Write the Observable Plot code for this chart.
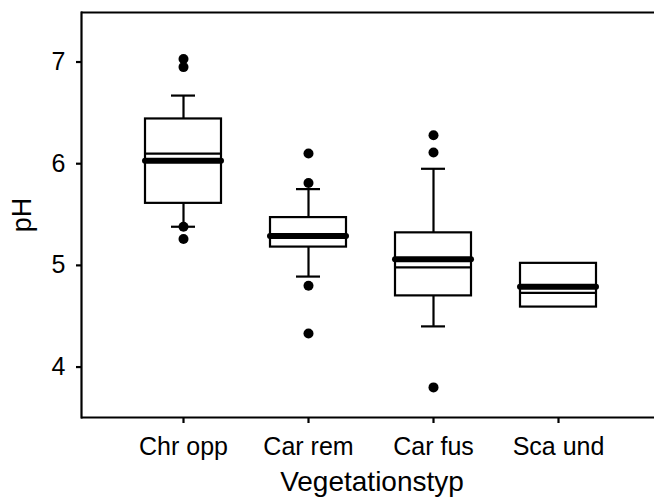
<!DOCTYPE html>
<html>
<head>
<meta charset="utf-8">
<script src="https://cdn.jsdelivr.net/npm/d3@7"></script>
<script src="https://cdn.jsdelivr.net/npm/@observablehq/plot@0.6"></script>
<style>
  html, body { margin: 0; padding: 0; background: #fff; overflow: hidden; }
  #chart svg { display: block; }
</style>
</head>
<body>
<div id="chart"></div>
<script>
// --- data ---
const categories = ["Chr opp", "Car rem", "Car fus", "Sca und"];
const q1 = [5.61, 5.18, 4.70, 4.59];
const q3 = [6.44, 5.47, 5.32, 5.02];
const medians = [6.03, 5.29, 5.06, 4.79];
const means = [6.10, 5.30, 4.98, 4.73];
const whiskerLow = [5.38, 4.89, 4.40, null];
const whiskerHigh = [6.67, 5.75, 5.95, null];
const outlierCategory = ["Chr opp", "Chr opp", "Chr opp", "Chr opp",
                         "Car rem", "Car rem", "Car rem", "Car rem",
                         "Car fus", "Car fus", "Car fus"];
const outlierValue = [7.03, 6.95, 5.38, 5.26,
                      6.10, 5.81, 4.80, 4.33,
                      6.28, 6.11, 3.80];
const yTicks = [4, 5, 6, 7];
const yDomain = [3.504, 7.487];
const xTitle = "Vegetationstyp";
const yTitle = "pH";

// tables built from the arrays
const boxes = categories.map((c, i) => ({
  cat: c, q1: q1[i], q3: q3[i], median: medians[i], mean: means[i],
  lo: whiskerLow[i], hi: whiskerHigh[i]
}));
const whiskers = boxes.filter(d => d.lo != null);
const outliers = outlierCategory.map((c, i) => ({cat: c, v: outlierValue[i]}));

const font = "'Liberation Sans', Arial, sans-serif";
const lw = 2.2;

const chart = Plot.plot({
  width: 654,
  height: 501,
  marginLeft: 81,
  marginRight: 0,
  marginTop: 12,
  marginBottom: 84,
  style: {fontFamily: font, color: "#000", background: "#fff"},
  x: {type: "band", domain: categories, paddingInner: 0.389, paddingOuter: 0.389,
      insetLeft: 13.5, insetRight: 6.5, axis: null},
  y: {domain: yDomain, axis: null},
  marks: [
    // frame: top, bottom and left sides only
    Plot.ruleY(yDomain, {stroke: "#000", strokeWidth: lw}),
    Plot.frame({anchor: "left", stroke: "#000", strokeWidth: lw}),
    Plot.axisY({ticks: yTicks, tickSize: 5, tickPadding: 11, fontSize: 25,
                strokeWidth: lw, label: null, tickFormat: d => String(d)}),
    Plot.axisX({tickSize: 6, tickPadding: 14, fontSize: 25, strokeWidth: lw, label: null}),
    // whiskers
    Plot.ruleX(whiskers, {x: "cat", y1: "q3", y2: "hi", stroke: "#000", strokeWidth: lw}),
    Plot.ruleX(whiskers, {x: "cat", y1: "lo", y2: "q1", stroke: "#000", strokeWidth: lw}),
    Plot.tickY(whiskers, {x: "cat", y: "hi", stroke: "#000", strokeWidth: lw, insetLeft: 26, insetRight: 26}),
    Plot.tickY(whiskers, {x: "cat", y: "lo", stroke: "#000", strokeWidth: lw, insetLeft: 26, insetRight: 26}),
    // boxes
    Plot.barY(boxes, {x: "cat", y1: "q1", y2: "q3", fill: "#fff", stroke: "#000", strokeWidth: lw}),
    // mean (thin) and median (thick)
    Plot.tickY(boxes, {x: "cat", y: "mean", stroke: "#000", strokeWidth: lw}),
    Plot.tickY(boxes, {x: "cat", y: "median", stroke: "#000", strokeWidth: 6, strokeLinecap: "round"}),
    // outliers
    Plot.dot(outliers, {x: "cat", y: "v", r: 5, fill: "#000", stroke: "none"}),
    // axis titles
    Plot.text([xTitle], {text: d => d, frameAnchor: "bottom", dy: 65, dx: 4,
                         textAnchor: "middle", lineAnchor: "middle", fontSize: 28, fill: "#000"}),
    Plot.text([yTitle], {text: d => d, frameAnchor: "left", dx: -59, rotate: -90,
                         textAnchor: "middle", lineAnchor: "middle", fontSize: 27, fill: "#000"})
  ]
});
document.getElementById("chart").appendChild(chart);
</script>
</body>
</html>
